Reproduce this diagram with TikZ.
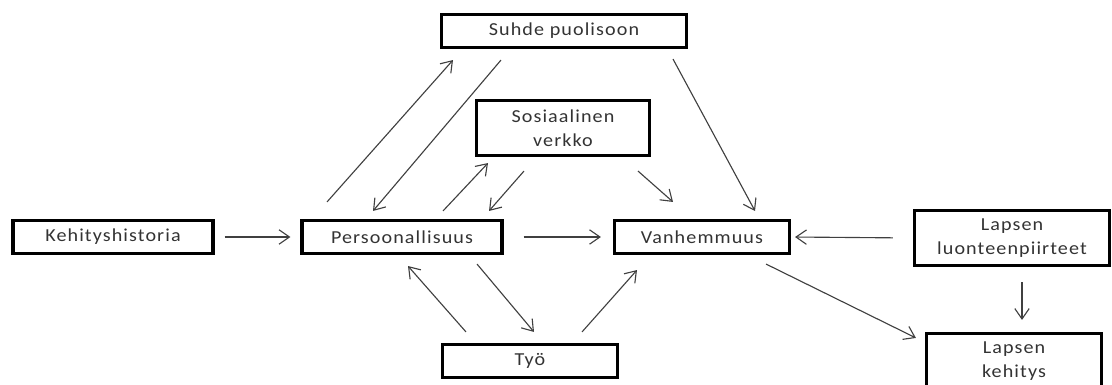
\documentclass[tikz,border=0pt]{standalone}
\usepackage{fontspec}
\setmainfont{Carlito}[FakeStretch=1.1,LetterSpace=6]
\usetikzlibrary{arrows.meta}

\begin{document}
\begin{tikzpicture}[x=0.025cm,y=-0.025cm
	,-{Straight Barb[length=2.6mm,width=3.6mm]}
	,semithick]
  \tikzset{box/.style={draw=black,line width=2.2pt,-,
      align=center,inner sep=0pt,font=\fontsize{13pt}{17pt}\selectfont,
      text=black!80,minimum height=0.825cm}}
  \tikzset{tall/.style={box,minimum height=1.375cm}}
  \tikzset{every edge/.style={draw=black!75,line width=0.8pt}}

  \useasboundingbox (0,0) rectangle (1112,385);

  % the boxes
  \node[box,minimum width=5cm]     (kehit)   at (113,237) {Kehityshistoria};
  \node[box,minimum width=5cm]     (pers)    at (402,237) {Persoonallisuus};
  \node[box,minimum width=4.375cm] (vanh)    at (702,237) {Vanhemmuus};
  \node[box,minimum width=6.125cm] (suhde)   at (564,31)  {Suhde puolisoon};
  \node[tall,minimum width=4.325cm] (sos)    at (563,128) {Sosiaalinen\\verkko};
  \node[tall,minimum width=4.875cm] (luonne) at (1012,238) {Lapsen\\luonteenpiirteet};
  \node[box,minimum width=4.375cm] (tyo)     at (530,361) {Työ};
  \node[tall,minimum width=4.375cm] (kehitys) at (1014,361) {Lapsen\\kehitys};

  % horizontal row
  \path [shorten <=0.25cm,shorten >=0.25cm] (kehit.east) edge (pers.west);
  \path [shorten <=0.5cm,shorten >=0.3cm]   (pers.east)  edge (vanh.west);
  \path [shorten <=0.5cm,shorten >=0.1cm]   (luonne.west) edge (vanh.east);
  % child
  \path ([shift={(10,15)}]luonne.south) edge ([shift={(8,-12)}]kehitys.north);
  \path ([shift={(64,9)}]vanh.south)    edge ([shift={(-9,6)}]kehitys.north west);
  % spouse
  \path ([shift={(-75,-17)}]pers.north) edge ([shift={(-111,11)}]suhde.south);
  \path ([shift={(-63,11)}]suhde.south) edge ([shift={(-29,-8)}]pers.north);
  \path ([shift={(109,10)}]suhde.south) edge ([shift={(53,-8)}]vanh.north);
  % network
  \path ([shift={(41,-8)}]pers.north)   edge ([shift={(-75,6)}]sos.south);
  \path ([shift={(-39,14)}]sos.south)   edge ([shift={(87,-8)}]pers.north);
  \path ([shift={(75,14)}]sos.south)    edge ([shift={(-29,-17)}]vanh.north);
  % work
  \path ([shift={(-64,-11)}]tyo.north)  edge ([shift={(6,11)}]pers.south);
  \path ([shift={(75,9)}]pers.south)    edge ([shift={(4,-11)}]tyo.north);
  \path ([shift={(52,-11)}]tyo.north)   edge ([shift={(-65,15)}]vanh.south);

\end{tikzpicture}
\end{document}
